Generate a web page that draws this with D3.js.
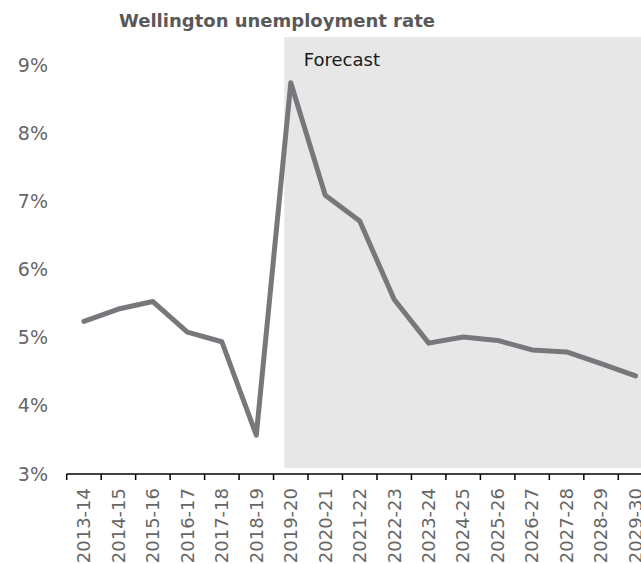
<!DOCTYPE html>
<html>
<head>
<meta charset="utf-8">
<script src="https://cdn.jsdelivr.net/npm/d3@7"></script>
<style>
  body { margin: 0; background: #fff; }
  text { font-family: Verdana, "DejaVu Sans", sans-serif; }
</style>
</head>
<body>
<svg id="chart" width="641" height="564"></svg>
<script>
// financial years and unemployment rate (%)
var years = ["2013-14", "2014-15", "2015-16", "2016-17", "2017-18", "2018-19",
  "2019-20", "2020-21", "2021-22", "2022-23", "2023-24", "2024-25", "2025-26",
  "2026-27", "2027-28", "2028-29", "2029-30"];
var rate = [5.24, 5.42, 5.53, 5.08, 4.94, 3.57, 8.74, 7.09, 6.71, 5.56, 4.92,
  5.01, 4.96, 4.82, 4.79, 4.62, 4.44];
var yTicks = [3, 4, 5, 6, 7, 8, 9];
var forecastFrom = "2019-20";

var svg = d3.select("#chart");
var left = 66.7, bandW = 34.475;

var x = d3.scaleBand().domain(years).range([left, left + bandW * years.length]);
var y = d3.scaleLinear().domain([3, 9]).range([474, 65]);

// forecast shading
svg.append("rect")
  .attr("x", x(forecastFrom) + x.bandwidth() / 2 - 6.5)
  .attr("y", y(9.41))
  .attr("width", 641)
  .attr("height", y(3) - 6 - y(9.41))
  .attr("fill", "#e7e7e7");

svg.append("text")
  .attr("x", x(forecastFrom) + x.bandwidth() / 2 + 13)
  .attr("y", 66)
  .attr("font-size", 18)
  .attr("fill", "#1a1a1a")
  .text("Forecast");

// title
svg.append("text")
  .attr("x", 277)
  .attr("y", 27)
  .attr("text-anchor", "middle")
  .attr("font-size", 18)
  .attr("font-weight", "bold")
  .attr("fill", "#595959")
  .text("Wellington unemployment rate");

// y labels, no axis line
svg.append("g").selectAll("text")
  .data(yTicks)
  .enter().append("text")
  .attr("x", 48)
  .attr("y", function (d) { return y(d); })
  .attr("dy", "0.35em")
  .attr("text-anchor", "end")
  .attr("font-size", 19)
  .attr("fill", "#666")
  .text(function (d) { return d + "%"; });

// x axis with ticks on band boundaries
var xAxis = svg.append("g").attr("transform", "translate(0," + y(3) + ")");
xAxis.append("line")
  .attr("x1", left).attr("x2", 641)
  .attr("stroke", "#000").attr("stroke-width", 1.5);
xAxis.selectAll(".tick")
  .data(years)
  .enter().append("line")
  .attr("x1", function (d) { return x(d); })
  .attr("x2", function (d) { return x(d); })
  .attr("y1", 0).attr("y2", 6)
  .attr("stroke", "#000").attr("stroke-width", 1.5);
xAxis.selectAll(".lbl")
  .data(years)
  .enter().append("text")
  .attr("transform", function (d) {
    return "translate(" + (x(d) + x.bandwidth() / 2) + ",14) rotate(-90)";
  })
  .attr("dy", "0.35em")
  .attr("text-anchor", "end")
  .attr("font-size", 18)
  .attr("fill", "#666")
  .text(function (d) { return d; });

// the line
var line = d3.line()
  .x(function (d, i) { return x(years[i]) + x.bandwidth() / 2; })
  .y(function (d) { return y(d); });

svg.append("path")
  .datum(rate)
  .attr("d", line)
  .attr("fill", "none")
  .attr("stroke", "#76787b")
  .attr("stroke-width", 5)
  .attr("stroke-linecap", "round")
  .attr("stroke-linejoin", "round");
</script>
</body>
</html>
